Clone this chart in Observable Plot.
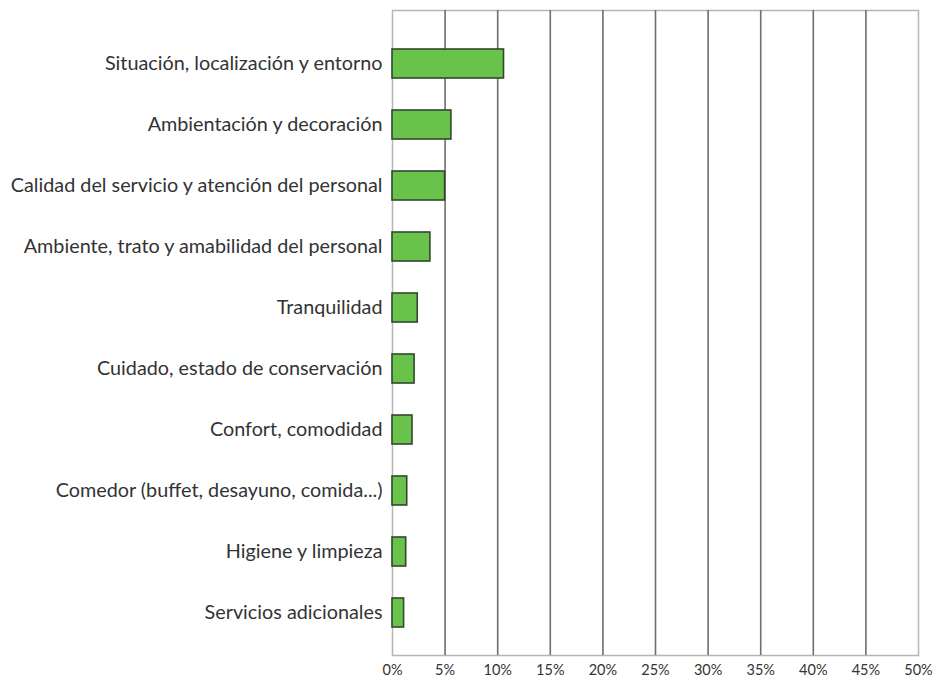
<!DOCTYPE html>
<html>
<head>
<meta charset="utf-8">
<script src="https://cdn.jsdelivr.net/npm/d3@7"></script>
<script src="https://cdn.jsdelivr.net/npm/@observablehq/plot@0.6"></script>
<style>
  html, body { margin: 0; padding: 0; background: #fff; }
  #chart svg { display: block; }
</style>
</head>
<body>
<div id="chart"></div>
<script>
const categories = [
  "Situación, localización y entorno",
  "Ambientación y decoración",
  "Calidad del servicio y atención del personal",
  "Ambiente, trato y amabilidad del personal",
  "Tranquilidad",
  "Cuidado, estado de conservación",
  "Confort, comodidad",
  "Comedor (buffet, desayuno, comida...)",
  "Higiene y limpieza",
  "Servicios adicionales"
];
const values = [10.6, 5.6, 5.0, 3.6, 2.4, 2.1, 1.9, 1.4, 1.3, 1.1];
const xTicks = [0, 5, 10, 15, 20, 25, 30, 35, 40, 45, 50];

const data = categories.map((c, i) => ({category: c, value: values[i]}));

const chart = Plot.plot({
  width: 938,
  height: 682,
  marginLeft: 392,
  marginRight: 20,
  marginTop: 10,
  marginBottom: 27,
  style: {fontFamily: "Lato, sans-serif", color: "#333", background: "#fff"},
  x: {domain: [0, 50], ticks: xTicks, tickFormat: d => d + "%"},
  y: {domain: categories, paddingInner: 0.52, paddingOuter: 0.26, insetTop: 20.75, insetBottom: 9.25},
  marks: [
    Plot.frame({stroke: "#b5b5b5", strokeWidth: 1.5}),
    Plot.gridX(xTicks.filter(d => d > 0 && d < 50), {stroke: "#6e6e6e", strokeOpacity: 1, strokeWidth: 1.6}),
    Plot.barX(data, {x: "value", y: "category", fill: "#69c24a", stroke: "#33472f", strokeWidth: 1.6}),
    Plot.axisX(xTicks, {tickSize: 0, tickPadding: 9, fontSize: 14.5, label: null, tickFormat: d => d + "%"}),
    Plot.axisY({tickSize: 0, tickPadding: 10, fontSize: 19.8, label: null})
  ]
});
document.getElementById("chart").appendChild(chart);
</script>
</body>
</html>
